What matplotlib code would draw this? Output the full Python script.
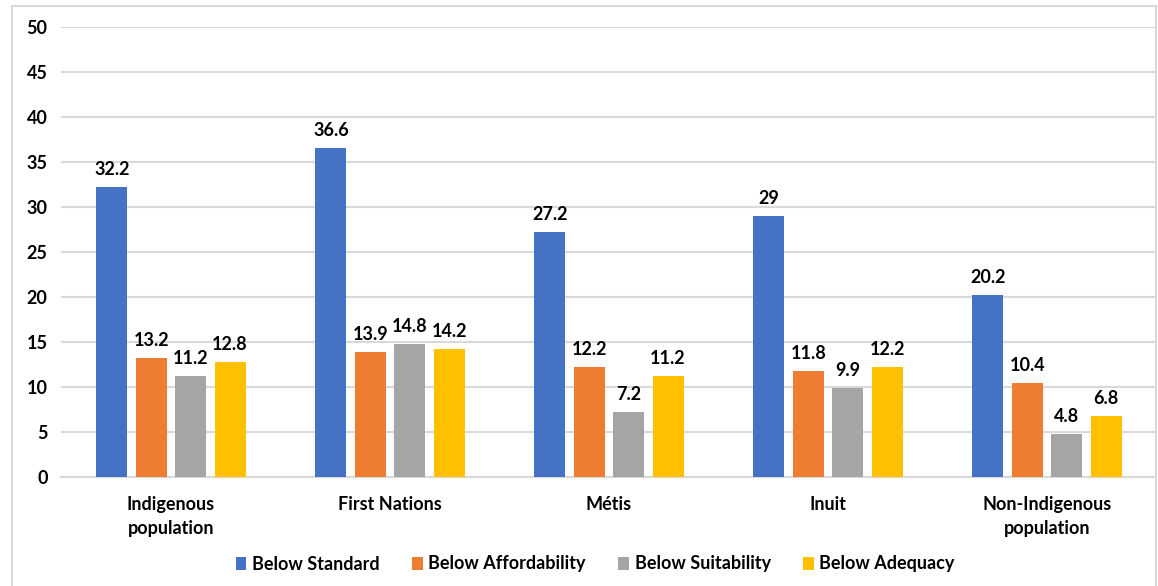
import numpy as np
import matplotlib.pyplot as plt
from matplotlib.patches import Rectangle

categories = ['Indigenous\npopulation', 'First Nations', 'Métis', 'Inuit', 'Non-Indigenous\npopulation']
series = ['Below Standard', 'Below Affordability', 'Below Suitability', 'Below Adequacy']
below_standard = [32.2, 36.6, 27.2, 29, 20.2]
below_affordability = [13.2, 13.9, 12.2, 11.8, 10.4]
below_suitability = [11.2, 14.8, 7.2, 9.9, 4.8]
below_adequacy = [12.8, 14.2, 11.2, 12.2, 6.8]
values = [below_standard, below_affordability, below_suitability, below_adequacy]
colors = ['#4472C4', '#ED7D31', '#A5A5A5', '#FFC000']

plt.rcParams['font.family'] = ['Lato', 'DejaVu Sans']
plt.rcParams['font.weight'] = 'bold'

fig = plt.figure(figsize=(11.58, 5.86), dpi=100)
ax = fig.add_axes([0.0531, 0.186, 0.9456, 0.768])

# chart border like excel
fig.patches.append(Rectangle((12 / 1158, -0.01), 1144 / 1158, 1 - 6 / 586 + 0.01,
                             transform=fig.transFigure, fill=False,
                             edgecolor='#d9d9d9', linewidth=1.5))

x = np.arange(len(categories))
width = 0.142
step = 0.18
for i, (name, vals, col) in enumerate(zip(series, values, colors)):
    pos = x + (i - 1.5) * step
    bars = ax.bar(pos, vals, width, color=col, label=name, zorder=3)
    for b, v in zip(bars, vals):
        ax.text(b.get_x() + b.get_width() / 2, v + 1.0, '{:g}'.format(v),
                ha='center', va='bottom', fontsize=13, fontweight='bold')

ax.set_xlim(-0.5, len(categories) - 0.5)
ax.set_ylim(0, 50)
ax.set_yticks(range(0, 51, 5))
ax.yaxis.grid(True, color='#d9d9d9', linewidth=1.5, zorder=0)
ax.set_axisbelow(True)
for s in ['top', 'right', 'left']:
    ax.spines[s].set_visible(False)
ax.spines['bottom'].set_color('#d9d9d9')
ax.spines['bottom'].set_linewidth(1.5)
ax.tick_params(axis='both', length=0, labelsize=13, pad=10)
ax.tick_params(axis='x', pad=14)
ax.set_xticks(x)
ax.set_xticklabels(categories, fontweight='bold', linespacing=1.5)
for lab in ax.get_yticklabels():
    lab.set_fontweight('bold')

fig.legend(loc='center', bbox_to_anchor=(0.514, 1 - 564 / 586), ncol=4,
           frameon=False, fontsize=13, handlelength=0.6, handleheight=0.7,
           handletextpad=0.3, columnspacing=1.8)

plt.savefig('out.png', dpi=100)
